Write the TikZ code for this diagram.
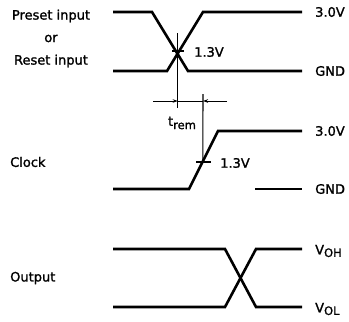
\documentclass[tikz,border=0pt]{standalone}
\usepackage{fontspec}
\setmainfont{DejaVu Sans}[FakeBold=1.4]
\usetikzlibrary{arrows.meta}
\begin{document}
\begin{tikzpicture}[x=1pt,y=-1pt,
  sig/.style={line width=2.6pt,line join=miter},
  thin/.style={line width=1.1pt},
  lbl/.style={inner sep=0pt,font=\fontsize{13}{15}\selectfont},
  dimarrow/.style={line width=0.9pt,-{Stealth[length=5pt,width=3.5pt]}}]
\useasboundingbox (0,0) rectangle (349,322);
% Preset / Reset input
\draw[sig] (113,12) -- (152,12) -- (188,71) -- (302,71);
\draw[sig] (113,71) -- (167,71) -- (203,12) -- (302,12);
\coordinate (x1) at (177.7,51);
\coordinate (x1top) at (177.7,33);
\coordinate (x1bot) at (177.7,108);
\draw[thin] (x1top) -- (x1bot);
\draw[thin] (172,51) -- (184,51);
% dimension t_rem
\coordinate (dl) at (153,101);
\coordinate (dr) at (227,101);
\coordinate (da) at (177.7,101);
\coordinate (db) at (203,101);
\draw[dimarrow] (dl) -- (da);
\draw[dimarrow] (dr) -- (db);
\draw[line width=0.5pt] (da) -- (db);
\coordinate (x2) at (202.8,162);
\coordinate (v2top) at (203,94);
\draw[thin] (v2top) -- (x2);
\draw[thin] (196,162) -- (211,162);
% Clock
\draw[sig] (113,189) -- (189,189) -- (218,131) -- (302,131);
\draw[sig] (255,189) -- (302,189);
% Output
\draw[sig] (113,249) -- (225,249) -- (256,307) -- (302,307);
\draw[sig] (113,307) -- (225,307) -- (256,249) -- (302,249);
% labels left
\node[lbl] (preset) at (51,16) {Preset input};
\node[lbl] (or) at (51,38.5) {or};
\node[lbl] (reset) at (51,61) {Reset input};
\node[lbl,anchor=west] (clock) at (10,162) {Clock};
\node[lbl,anchor=west] (output) at (10,278) {Output};
% labels right
\node[lbl,anchor=west] (v30a) at (315,12) {3.0V};
\node[lbl,anchor=west] (gnda) at (315,71) {GND};
\node[lbl,anchor=west] (v30b) at (315,131) {3.0V};
\node[lbl,anchor=west] (gndb) at (315,189) {GND};
\node[lbl,anchor=west] (voh) at (315,251) {V\raisebox{-0.35ex}{\fontsize{11.5}{12}\selectfont OH}};
\node[lbl,anchor=west] (vol) at (315,309) {V\raisebox{-0.35ex}{\fontsize{11.5}{12}\selectfont OL}};
% 1.3V labels
\node[lbl,anchor=west] (th1) at (194,52) {1.3V};
\node[lbl,anchor=west] (th2) at (220,163) {1.3V};
% t_rem
\node[lbl] (trem) at (182,123) {t\raisebox{-0.45ex}{\fontsize{11.5}{12}\selectfont rem}};
\end{tikzpicture}
\end{document}
